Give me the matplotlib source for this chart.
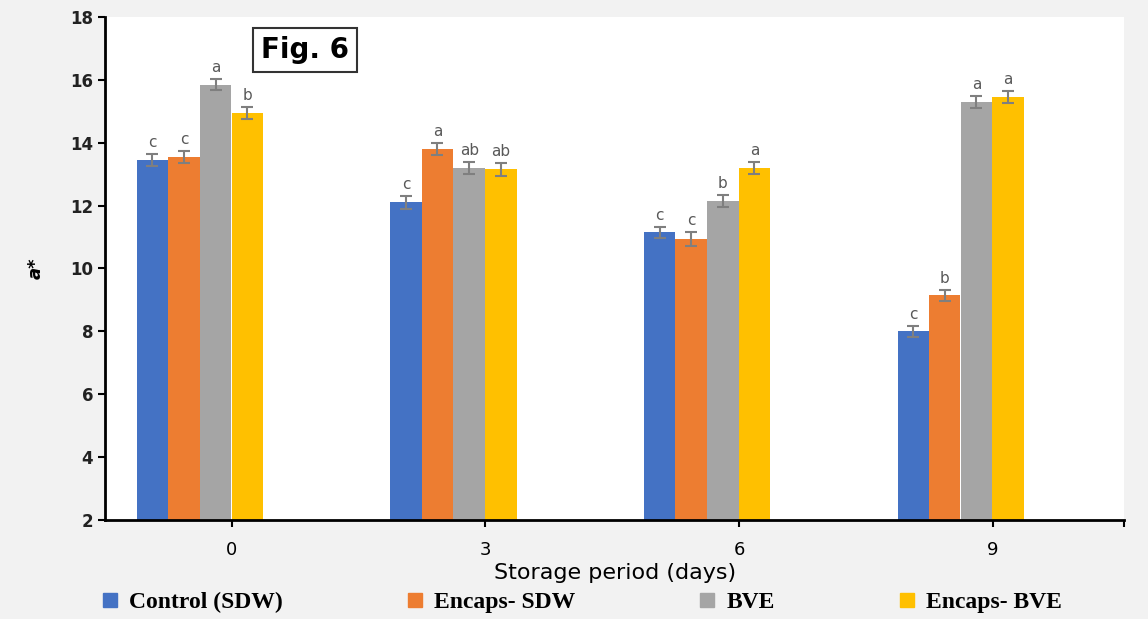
import matplotlib
matplotlib.use('Agg')
import matplotlib.pyplot as plt
from matplotlib.lines import Line2D
import numpy as np

# data
days = ['0', '3', '6', '9']
series = ['Control (SDW)', 'Encaps- SDW', 'BVE', 'Encaps- BVE']
control = [13.45, 12.1, 11.15, 8.0]
encaps_sdw = [13.55, 13.8, 10.95, 9.15]
bve = [15.85, 13.2, 12.15, 15.3]
encaps_bve = [14.95, 13.15, 13.2, 15.45]
err_control = [0.2, 0.2, 0.18, 0.18]
err_encaps_sdw = [0.2, 0.2, 0.22, 0.18]
err_bve = [0.18, 0.2, 0.18, 0.2]
err_encaps_bve = [0.2, 0.2, 0.18, 0.2]
letters_control = ['c', 'c', 'c', 'c']
letters_encaps_sdw = ['c', 'a', 'c', 'b']
letters_bve = ['a', 'ab', 'b', 'a']
letters_encaps_bve = ['b', 'ab', 'a', 'a']

values = [control, encaps_sdw, bve, encaps_bve]
errors = [err_control, err_encaps_sdw, err_bve, err_encaps_bve]
letters = [letters_control, letters_encaps_sdw, letters_bve, letters_encaps_bve]
colors = ['#4472C4', '#ED7D31', '#A5A5A5', '#FFC000']

fig = plt.figure(figsize=(11.48, 6.19), dpi=100)
fig.patch.set_facecolor('#f2f2f2')
ax = fig.add_axes([0.0915, 0.16, 0.888, 0.8126])
ax.set_facecolor('white')

x = np.arange(len(days))
w = 0.124
offsets = [-0.313, -0.189, -0.064, 0.061]
for i in range(4):
    ax.bar(x + offsets[i], values[i], w, bottom=0, color=colors[i], zorder=2)
    ax.errorbar(x + offsets[i], values[i], yerr=errors[i], fmt='none',
                ecolor='#7f7f7f', elinewidth=1.5, capsize=4, capthick=1.5, zorder=3)
    for j in range(4):
        ax.text(x[j] + offsets[i], values[i][j] + errors[i][j] + 0.12, letters[i][j],
                ha='center', va='bottom', fontsize=11, color='#595959')

ax.set_ylim(2, 18)
ax.set_xlim(-0.5, 3.52)
ax.set_yticks(range(2, 19, 2))
ax.set_xticks(x)
ax.set_xticklabels(days, fontsize=13)
ax.set_xticks([3.52], minor=True)
for lbl in ax.get_yticklabels():
    lbl.set_fontsize(12)
    lbl.set_fontweight('bold')
    lbl.set_color('#222222')
ax.tick_params(axis='y', length=5, width=1.5)
ax.tick_params(axis='x', which='both', length=5, width=1.5, pad=10)
for s in ['top', 'right']:
    ax.spines[s].set_visible(False)
ax.spines['left'].set_linewidth(2)
ax.spines['bottom'].set_linewidth(2)

ax.set_ylabel('a*', fontsize=13, fontstyle='italic', fontweight='bold', labelpad=18)
ax.set_xlabel('Storage period (days)', fontsize=16, labelpad=3)

ax.text(0.196, 0.934, 'Fig. 6', transform=ax.transAxes, fontsize=20, fontweight='bold',
        family='DejaVu Sans', ha='center', va='center',
        bbox=dict(boxstyle='square,pad=0.3', fc='white', ec='#333333', lw=1.5))

handles = [Line2D([], [], marker='s', ls='none', color=c, markersize=10) for c in colors]
fig.legend(handles, series, loc='lower center', bbox_to_anchor=(0.5, -0.025), ncol=4,
           frameon=False, handletextpad=-0.2, columnspacing=4.6,
           prop={'family': 'Liberation Serif', 'weight': 'bold', 'size': 17})

fig.savefig('out.png', dpi=100, facecolor=fig.get_facecolor())
